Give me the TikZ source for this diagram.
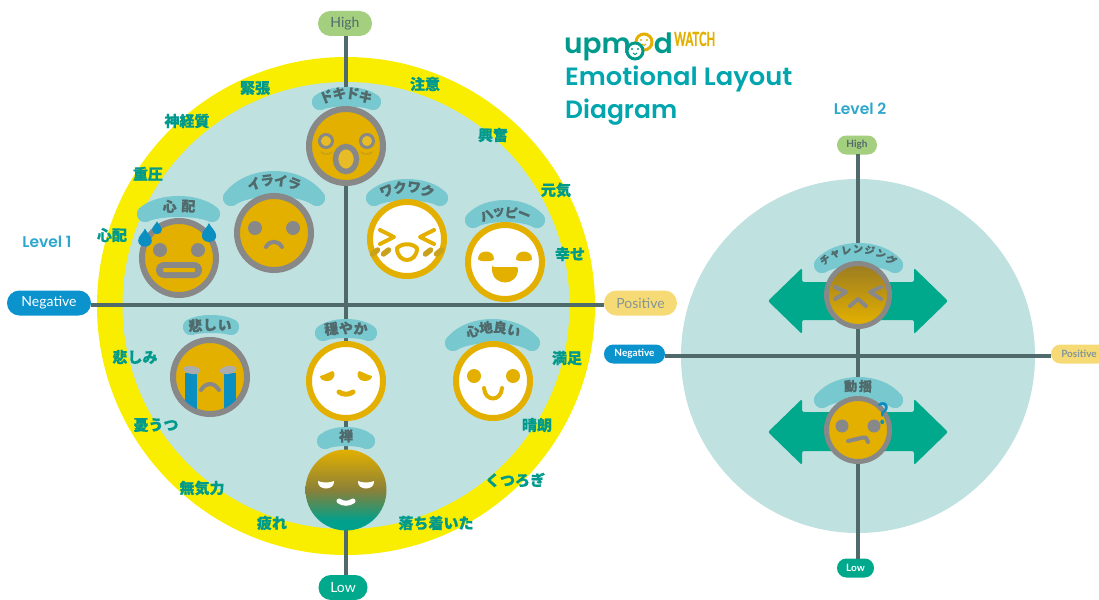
\documentclass[tikz,border=0pt]{standalone}
\usepackage{fontspec}
\setmainfont{Lato}
\newfontfamily\cjk[BoldFeatures={FakeBold=0.6}]{Noto Sans CJK JP}
\newfontfamily\titlef{Poppins SemiBold}
\newfontfamily\logof{Poppins SemiBold}
\newfontfamily\watchf[BoldFeatures={FakeBold=0.8}]{Lato}
\usetikzlibrary{calc}
\definecolor{ringY}{HTML}{F9EE00}
\definecolor{discB}{HTML}{BFE1E0}
\definecolor{axisC}{HTML}{50696B}
\definecolor{bandC}{HTML}{78C8D0}
\definecolor{faceY}{HTML}{E3B000}
\definecolor{faceG}{HTML}{888888}
\definecolor{tealL}{HTML}{009A8C}
\definecolor{tealA}{HTML}{00A88C}
\definecolor{blueP}{HTML}{0B93CE}
\definecolor{greenP}{HTML}{A3CF7E}
\definecolor{yellowP}{HTML}{F5DA75}
\definecolor{dropB}{HTML}{0B8FC0}
\definecolor{cheekC}{HTML}{C9A11A}
\definecolor{titleC}{HTML}{00A5AE}
\definecolor{levelC}{HTML}{2EA7CC}
\definecolor{logoT}{HTML}{009A8C}
\definecolor{zenM}{HTML}{8A8038}
\definecolor{chalT}{HTML}{9A7B22}
\pgfdeclareverticalshading{zenshade}{100bp}{color(0bp)=(tealL!60!tealA); color(31bp)=(tealL!60!tealA); color(50bp)=(zenM); color(75bp)=(faceY); color(100bp)=(faceY)}
\pgfdeclareverticalshading{chalshade}{100bp}{color(0bp)=(faceY); color(27bp)=(faceY); color(75bp)=(chalT); color(100bp)=(chalT)}
\tikzset{
  pill/.style={rounded corners=12.4pt,text=white,inner sep=0pt,font=\fontsize{14}{14}\selectfont},
  pills/.style={rounded corners=9.4pt,text=white,inner sep=0pt,font=\bfseries\fontsize{10}{10}\selectfont},
  axisline/.style={draw=axisC,line width=3.6pt},
  band/.style={draw=bandC,line width=16pt,line cap=round},
  bandtext/.style={text=axisC,inner sep=0pt},
  ringlabel/.style={text=tealL,inner sep=0pt,font=\cjk\bfseries\fontsize{15}{15}\selectfont},
  grayface/.style={circle,draw=faceG,line width=6pt,fill=faceY,minimum size=74pt,inner sep=0pt},
  whiteface/.style={circle,draw=faceY,line width=6pt,fill=white,minimum size=74pt,inner sep=0pt},
  smallface/.style={circle,draw=faceG,line width=5pt,fill=faceY,minimum size=63pt,inner sep=0pt},
  gstroke/.style={draw=faceG,line width=4pt,line cap=round,line join=round},
  ystroke/.style={draw=faceY,line width=4pt,line cap=round,line join=round},
  levellabel/.style={text=levelC,inner sep=0pt,font=\titlef\fontsize{15.5}{15.5}\selectfont},
  bigarrow/.style={fill=tealA,rounded corners=2pt},
}
% name, cx, cy, R, step, n, size, chars
\newcommand{\arclabel}[8]{%
  \foreach \ch [count=\i] in {#8}{%
    \pgfmathsetmacro{\a}{(\i-(#6+1)/2)*#5}
    \node[bandtext,rotate=-\a,font=\cjk\bfseries\fontsize{#7}{#7}\selectfont] (#1-\i) at ({#2+#4*sin(\a)},{#3-#4*cos(\a)}) {\ch};
  }}
\newcommand{\drop}[3]{% x y scale
  \fill[dropB,shift={(#1,#2)},scale=#3] (0,-9) .. controls (1.5,-5) and (6.5,-2) .. (6.5,2.5) .. controls (6.5,10) and (-6.5,10) .. (-6.5,2.5) .. controls (-6.5,-2) and (-1.5,-5) .. (0,-9) -- cycle;}
% x1 x2 yend yapex : a curved band, thicker at its middle than at its ends
\newcommand{\bandarc}[4]{%
  \draw[band] (#1,#3) .. controls ({#1+0.22*(#2-#1)},{#3-(#3-#4)/0.75}) and ({#2-0.22*(#2-#1)},{#3-(#3-#4)/0.75}) .. (#2,#3);
  \draw[band] (#1,#3) .. controls ({#1+0.22*(#2-#1)},{#3-0.5*(#3-#4)/0.75}) and ({#2-0.22*(#2-#1)},{#3-0.5*(#3-#4)/0.75}) .. (#2,#3);}
\begin{document}
\begin{tikzpicture}[x=1pt,y=-1pt]
\useasboundingbox (0,0) rectangle (1099,599);
% discs
\node[circle,fill=ringY,minimum size=498pt,inner sep=0pt] (ring) at (346,306) {};
\node[circle,fill=discB,minimum size=447pt,inner sep=0pt] (disc) at (346,305.5) {};
\node[circle,fill=discB,minimum size=354pt,inner sep=0pt] (disc2) at (858,356) {};
% pills
\node[pill,fill=greenP,minimum width=54pt,minimum height=25pt,text=axisC] (high) at (345,23.5) {High};
\node[pill,fill=tealA,minimum width=49pt,minimum height=25pt] (low) at (343,587.5) {Low};
\node[pill,fill=blueP,minimum width=84pt,minimum height=25pt] (neg) at (49,303) {Negative};
\node[pill,fill=yellowP,minimum width=73pt,minimum height=25pt,text=axisC!70!white] (pos) at (640.5,303) {Positive};
\node[pills,fill=greenP,minimum width=40pt,minimum height=19pt,text=axisC] (high2) at (857,145) {High};
\node[pills,fill=tealA,minimum width=37pt,minimum height=19pt] (low2) at (855.5,568) {Low};
\node[pills,fill=blueP,minimum width=61pt,minimum height=19pt] (neg2) at (634.5,354) {Negative};
\node[pills,fill=yellowP,minimum width=56pt,minimum height=19pt,text=axisC!70!white] (pos2) at (1079,354) {Positive};
% axes
\draw[axisline] (346,36) -- (346,575);
\draw[axisline] ($(neg.east)+(0,2)$) -- ($(pos.west)+(0,2)$);
\draw[axisline] (858,154) -- (858,559);
\draw[axisline] ($(neg2.east)+(0,2)$) -- ($(pos2.west)+(0,2)$);
% big arrows
\fill[bigarrow] (768,301) -- (802,268) -- (802,282) -- (914,282) -- (914,268) -- (948,301) -- (914,334) -- (914,320) -- (802,320) -- (802,334) -- cycle;
\fill[bigarrow] (768,432) -- (802,399) -- (802,412) -- (914,412) -- (914,399) -- (948,432) -- (914,465) -- (914,451) -- (802,451) -- (802,465) -- cycle;
% bands
\bandarc{320}{373}{102}{95}
\bandarc{145}{212}{214}{204}
\bandarc{231}{317}{198}{179}
\bandarc{374}{440}{198}{187}
\bandarc{473}{537}{220}{208}
\bandarc{191}{231}{327}{323}
\bandarc{323}{369}{333}{327}
\bandarc{453}{532}{343}{327}
\bandarc{325}{367}{441}{435}
\bandarc{822}{895}{265}{251}
\bandarc{822}{895}{400}{385}
% faces
\node[grayface] (doki) at (346,146) {};
\node[grayface] (shinpai) at (179,258) {};
\node[grayface] (iraira) at (274,233) {};
\node[whiteface] (waku) at (407,239) {};
\node[whiteface] (happy) at (505,262) {};
\node[grayface] (kana) at (210,377) {};
\node[whiteface] (oda) at (346,381) {};
\node[whiteface] (koko) at (493,381) {};
\shade[shading=zenshade] (346,490) circle (40.5);
\node[circle,minimum size=81pt,inner sep=0pt] (zen) at (346,490) {};
\shade[shading=chalshade] (858,295) circle (32);
\node[circle,draw=faceG,line width=5pt,minimum size=63pt,inner sep=0pt] (chal) at (858,295) {};
\node[smallface] (doyo) at (858,430) {};
% doki details
\begin{scope}[shift={(doki)}]
  \draw[faceG,line width=3pt,fill=faceY!85!white] (-20,-5) circle (6.5);
  \draw[faceG,line width=3pt,fill=faceY!85!white] (21,-5) circle (6.5);
  \draw[cheekC,line width=1.5pt,line cap=round] (-25,6) .. controls (-21,9) and (-18,9) .. (-14,6);
  \draw[cheekC,line width=1.5pt,line cap=round] (15,6) .. controls (19,9) and (22,9) .. (26,6);
  \draw[faceG,line width=5.5pt,fill=faceY!85!white] (0,13) ellipse (10.5 and 12.5);
\end{scope}
% shinpai details
\begin{scope}[shift={(shinpai)}]
  \fill[faceG] (-19,-8) circle (7);
  \fill[faceG] (19,-8) circle (7);
  \fill[faceG,rounded corners=8pt] (-23,4) rectangle (23,20);
  \fill[faceY,rounded corners=1pt] (-16,10) rectangle (16,14);
\end{scope}
\drop{145}{238}{1.05}
\drop{157}{228}{0.75}
\drop{209}{233}{1.1}
% iraira
\begin{scope}[shift={(iraira)}]
  \fill[faceG] (-19,-5) circle (7);
  \fill[faceG] (19,-5) circle (7);
  \draw[gstroke] (-8,14) .. controls (-4,7) and (4,7) .. (8,14);
\end{scope}
% waku
\begin{scope}[shift={(waku)}]
  \draw[ystroke] (-27,-9) -- (-13,-2) -- (-27,5);
  \draw[ystroke] (27,-9) -- (13,-2) -- (27,5);
  \draw[ystroke,fill=white] (-10,9) .. controls (-5,4) and (5,4) .. (10,9) .. controls (10,25) and (-10,25) .. (-10,9) -- cycle;
  \foreach \xx in {-32,-21,21,32}{
    \draw[cheekC,line width=5.5pt,line cap=round] (\xx-2.5,15) -- (\xx+2.5,11);
  }
\end{scope}
% happy
\begin{scope}[shift={(happy)}]
  \fill[faceY] (-27,-3) .. controls (-27,-13) and (-11,-13) .. (-11,-3) .. controls (-11,0) and (-27,0) .. (-27,-3) -- cycle;
  \fill[faceY] (27,-3) .. controls (27,-13) and (11,-13) .. (11,-3) .. controls (11,0) and (27,0) .. (27,-3) -- cycle;
  \fill[faceY,rounded corners=2pt] (-13,5) -- (13,5) .. controls (13,25) and (-13,25) .. (-13,5) -- cycle;
\end{scope}
% kanashii
\begin{scope}[shift={(kana)}]
  \clip (0,0) circle (34.5);
  \fill[dropB] (-25.5,-4) rectangle (-13,40);
  \fill[dropB] (13.5,-4) rectangle (26,40);
  \fill[faceG!70!white,rotate around={-8:(-18,-7)}] (-18,-7) ellipse (8.5 and 4);
  \fill[faceG!70!white,rotate around={8:(18,-7)}] (18,-7) ellipse (8.5 and 4);
  \draw[gstroke] (-9,13) .. controls (-4,5) and (4,5) .. (9,13);
\end{scope}
% odayaka
\begin{scope}[shift={(oda)}]
  \fill[faceY] (-26,-5) .. controls (-21,-6) and (-17,-9) .. (-13,-10) .. controls (-10,-8) and (-11,0) .. (-19,0) .. controls (-23,0) and (-26,-2) .. (-26,-5) -- cycle;
  \fill[faceY] (26,-5) .. controls (21,-6) and (17,-9) .. (13,-10) .. controls (10,-8) and (11,0) .. (19,0) .. controls (23,0) and (26,-2) .. (26,-5) -- cycle;
  \draw[ystroke,line width=5pt] (-7,11) .. controls (-3,14) and (3,14) .. (7,11);
\end{scope}
% kokochi
\begin{scope}[shift={(koko)}]
  \fill[faceY] (-19,-5) circle (7);
  \fill[faceY] (20,-5) circle (7);
  \draw[ystroke] (-9,7) .. controls (-8,21) and (8,21) .. (9,7);
\end{scope}
% zen
\begin{scope}[shift={(zen)}]
  \fill[white] (-28,-9) .. controls (-24,-7) and (-16,-7) .. (-12,-9) .. controls (-11,1) and (-29,1) .. (-28,-9) -- cycle;
  \fill[white] (28,-9) .. controls (24,-7) and (16,-7) .. (12,-9) .. controls (11,1) and (29,1) .. (28,-9) -- cycle;
  \draw[white,line width=5pt,line cap=round] (-7,11) .. controls (-3,14) and (3,14) .. (7,11);
\end{scope}
% challenge
\begin{scope}[shift={(chal)}]
  \draw[gstroke] (-23,-8) -- (-12,-3) -- (-23,4);
  \draw[gstroke] (23,-8) -- (12,-3) -- (23,4);
  \draw[gstroke] (-8,11) -- (0,4) -- (8,11);
\end{scope}
% doyo
\begin{scope}[shift={(doyo)}]
  \fill[faceG] (-16,-4) circle (6.5);
  \fill[faceG] (16,-4) circle (6.5);
  \draw[gstroke] (-10,11) -- (5,7.5) .. controls (8,7) .. (10,12);
\end{scope}
\node[text=dropB,inner sep=0pt,xscale=0.85,font=\bfseries\fontsize{30}{30}\selectfont] (qm) at (883,414) {?};
% band labels
\arclabel{tdoki}{346}{146}{53}{14.5}{4}{13.5}{ド,キ,ド,キ}
\arclabel{tshin}{179}{406}{200}{5.4}{2}{14}{心,配}
\arclabel{tira}{274}{234}{54}{14.5}{4}{13.5}{イ,ラ,イ,ラ}
\arclabel{twaku}{407}{240}{53}{15}{4}{13.5}{ワ,ク,ワ,ク}
\arclabel{thap}{505}{262}{50}{14.5}{4}{13}{ハ,ッ,ピ,ー}
\arclabel{tkana}{210}{525}{200}{4.2}{3}{14}{悲,し,い}
\arclabel{toda}{346}{478}{150}{5.6}{3}{14}{穏,や,か}
\arclabel{tkoko}{493}{381}{54}{15}{4}{13.5}{心,地,良,い}
\arclabel{tzen}{346}{436}{0}{0}{1}{14}{禅}
\arclabel{tchal}{858}{305}{56}{12}{7}{10}{チ,ャ,レ,ン,ジ,ン,グ}
\arclabel{tdoyo}{858}{586}{200}{4.2}{2}{13}{動,揺}
% ring labels
\node[ringlabel] (r1) at (255,88) {緊張};
\node[ringlabel] (r2) at (425,84) {注意};
\node[ringlabel] (r3) at (187,121) {神経質};
\node[ringlabel] (r4) at (493,135) {興奮};
\node[ringlabel] (r5) at (148,174) {重圧};
\node[ringlabel] (r6) at (556,190) {元気};
\node[ringlabel] (r7) at (112,235) {心配};
\node[ringlabel] (r8) at (570,254) {幸せ};
\node[ringlabel] (r9) at (135,357) {悲しみ};
\node[ringlabel] (r10) at (567,358) {満足};
\node[ringlabel] (r11) at (156,425) {憂うつ};
\node[ringlabel] (r12) at (537,425) {晴朗};
\node[ringlabel] (r13) at (202,488) {無気力};
\node[ringlabel] (r14) at (515,480) {くつろぎ};
\node[ringlabel] (r15) at (272,523) {疲れ};
\node[ringlabel] (r16) at (436,523) {落ち着いた};
% level labels
\node[levellabel] (lv1) at (47,242) {Level 1};
\node[levellabel] (lv2) at (860,109) {Level 2};
% title
\node[anchor=base west,inner sep=0pt,xscale=1.032,text=titleC,font=\titlef\fontsize{25}{25}\selectfont] (t1) at (565,86) {Emotional Layout};
\node[anchor=base west,inner sep=0pt,text=titleC,font=\titlef\fontsize{25}{25}\selectfont] (t2) at (565,118) {Diagram};
% logo
\node[anchor=base west,inner sep=0pt,text=logoT,font=\logof\fontsize{28}{28}\selectfont] (lg1) at (564,54) {upm};
\node[anchor=base east,inner sep=0pt,text=logoT,font=\logof\fontsize{28}{28}\selectfont] (lg2) at (673,54) {d};
\node[circle,draw=faceY,line width=3pt,fill=white,minimum size=16pt,inner sep=0pt] (lg3) at (644,42) {};
\node[circle,draw=logoT,line width=3pt,fill=white,minimum size=16pt,inner sep=0pt] (lg4) at (635,51) {};
\fill[faceY] (641,40) circle (1.1) (647,40) circle (1.1);
\fill[logoT] (632,49) circle (1.1) (638,49) circle (1.1);
\draw[faceY,line width=1pt] (642,44) .. controls (643,46) and (645,46) .. (646,44);
\draw[logoT,line width=1pt] (633,53) .. controls (634,55) and (636,55) .. (637,53);
\node[anchor=base west,inner sep=0pt,text=faceY,xscale=0.58,font=\watchf\bfseries\fontsize{19.5}{19.5}\selectfont] (lg5) at (674,46) {WATCH};
\end{tikzpicture}
\end{document}
